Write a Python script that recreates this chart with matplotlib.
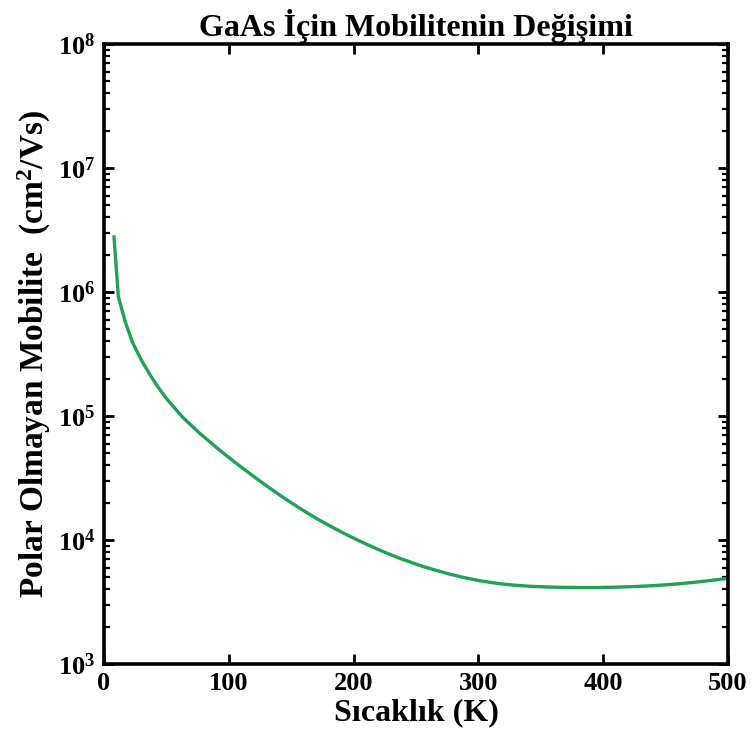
import numpy as np
import matplotlib
matplotlib.use("Agg")
import matplotlib.pyplot as plt

plt.rcParams['font.family'] = ['Liberation Serif', 'DejaVu Serif']
plt.rcParams['font.weight'] = 'bold'
plt.rcParams['mathtext.fontset'] = 'custom'
plt.rcParams['mathtext.rm'] = 'Liberation Serif:bold'
plt.rcParams['mathtext.bf'] = 'Liberation Serif:bold'
plt.rcParams['mathtext.it'] = 'Liberation Serif:bold:italic'

# values (log10 of mobility)
sicaklik = [8, 11.5, 17, 23, 30, 37, 43.5, 50.5, 63, 77, 92, 109, 120,
            130.5, 144, 157, 170, 183.5, 197, 210.5, 224, 237, 256, 275,
            288, 301, 315, 328, 341, 355, 368, 381, 395, 408, 421, 435,
            448, 462, 475, 488, 500]
log_mobilite = [6.444, 5.962, 5.76, 5.589, 5.45, 5.33, 5.23, 5.135, 4.99,
                4.858, 4.73, 4.595, 4.512, 4.435, 4.34, 4.255, 4.175, 4.10,
                4.03, 3.965, 3.905, 3.852, 3.785, 3.73, 3.698, 3.672,
                3.65, 3.636, 3.627, 3.621, 3.618, 3.617, 3.617, 3.619,
                3.623, 3.629, 3.637, 3.648, 3.661, 3.676, 3.691]
mobilite = 10 ** np.array(log_mobilite)

fig = plt.figure(figsize=(7.52, 7.49), dpi=100)
ax = fig.add_axes([104 / 752, 85 / 749, 624 / 752, 620 / 749])

ax.plot(sicaklik, mobilite, color='#1fa350', linewidth=2.4)

ax.set_yscale('log')
ax.set_xlim(0, 500)
ax.set_ylim(1e3, 1e8)
ax.set_xticks([0, 100, 200, 300, 400, 500])

ax.tick_params(which='both', direction='in', top=True, right=True,
               labelsize=19, width=2, pad=6)
ax.tick_params(which='major', length=7)
ax.tick_params(which='minor', length=4, width=1.6)
for sp in ax.spines.values():
    sp.set_linewidth(2.6)

ax.set_title('GaAs İçin Mobilitenin Değişimi', fontsize=23,
             fontweight='bold', pad=6)
ax.set_xlabel('Sıcaklık (K)', fontsize=23, fontweight='bold', labelpad=2)
ax.set_ylabel(r'Polar Olmayan Mobilite  (cm$^2$/Vs)', fontsize=24,
              fontweight='bold', labelpad=4)

fig.savefig('out.png', dpi=100)
